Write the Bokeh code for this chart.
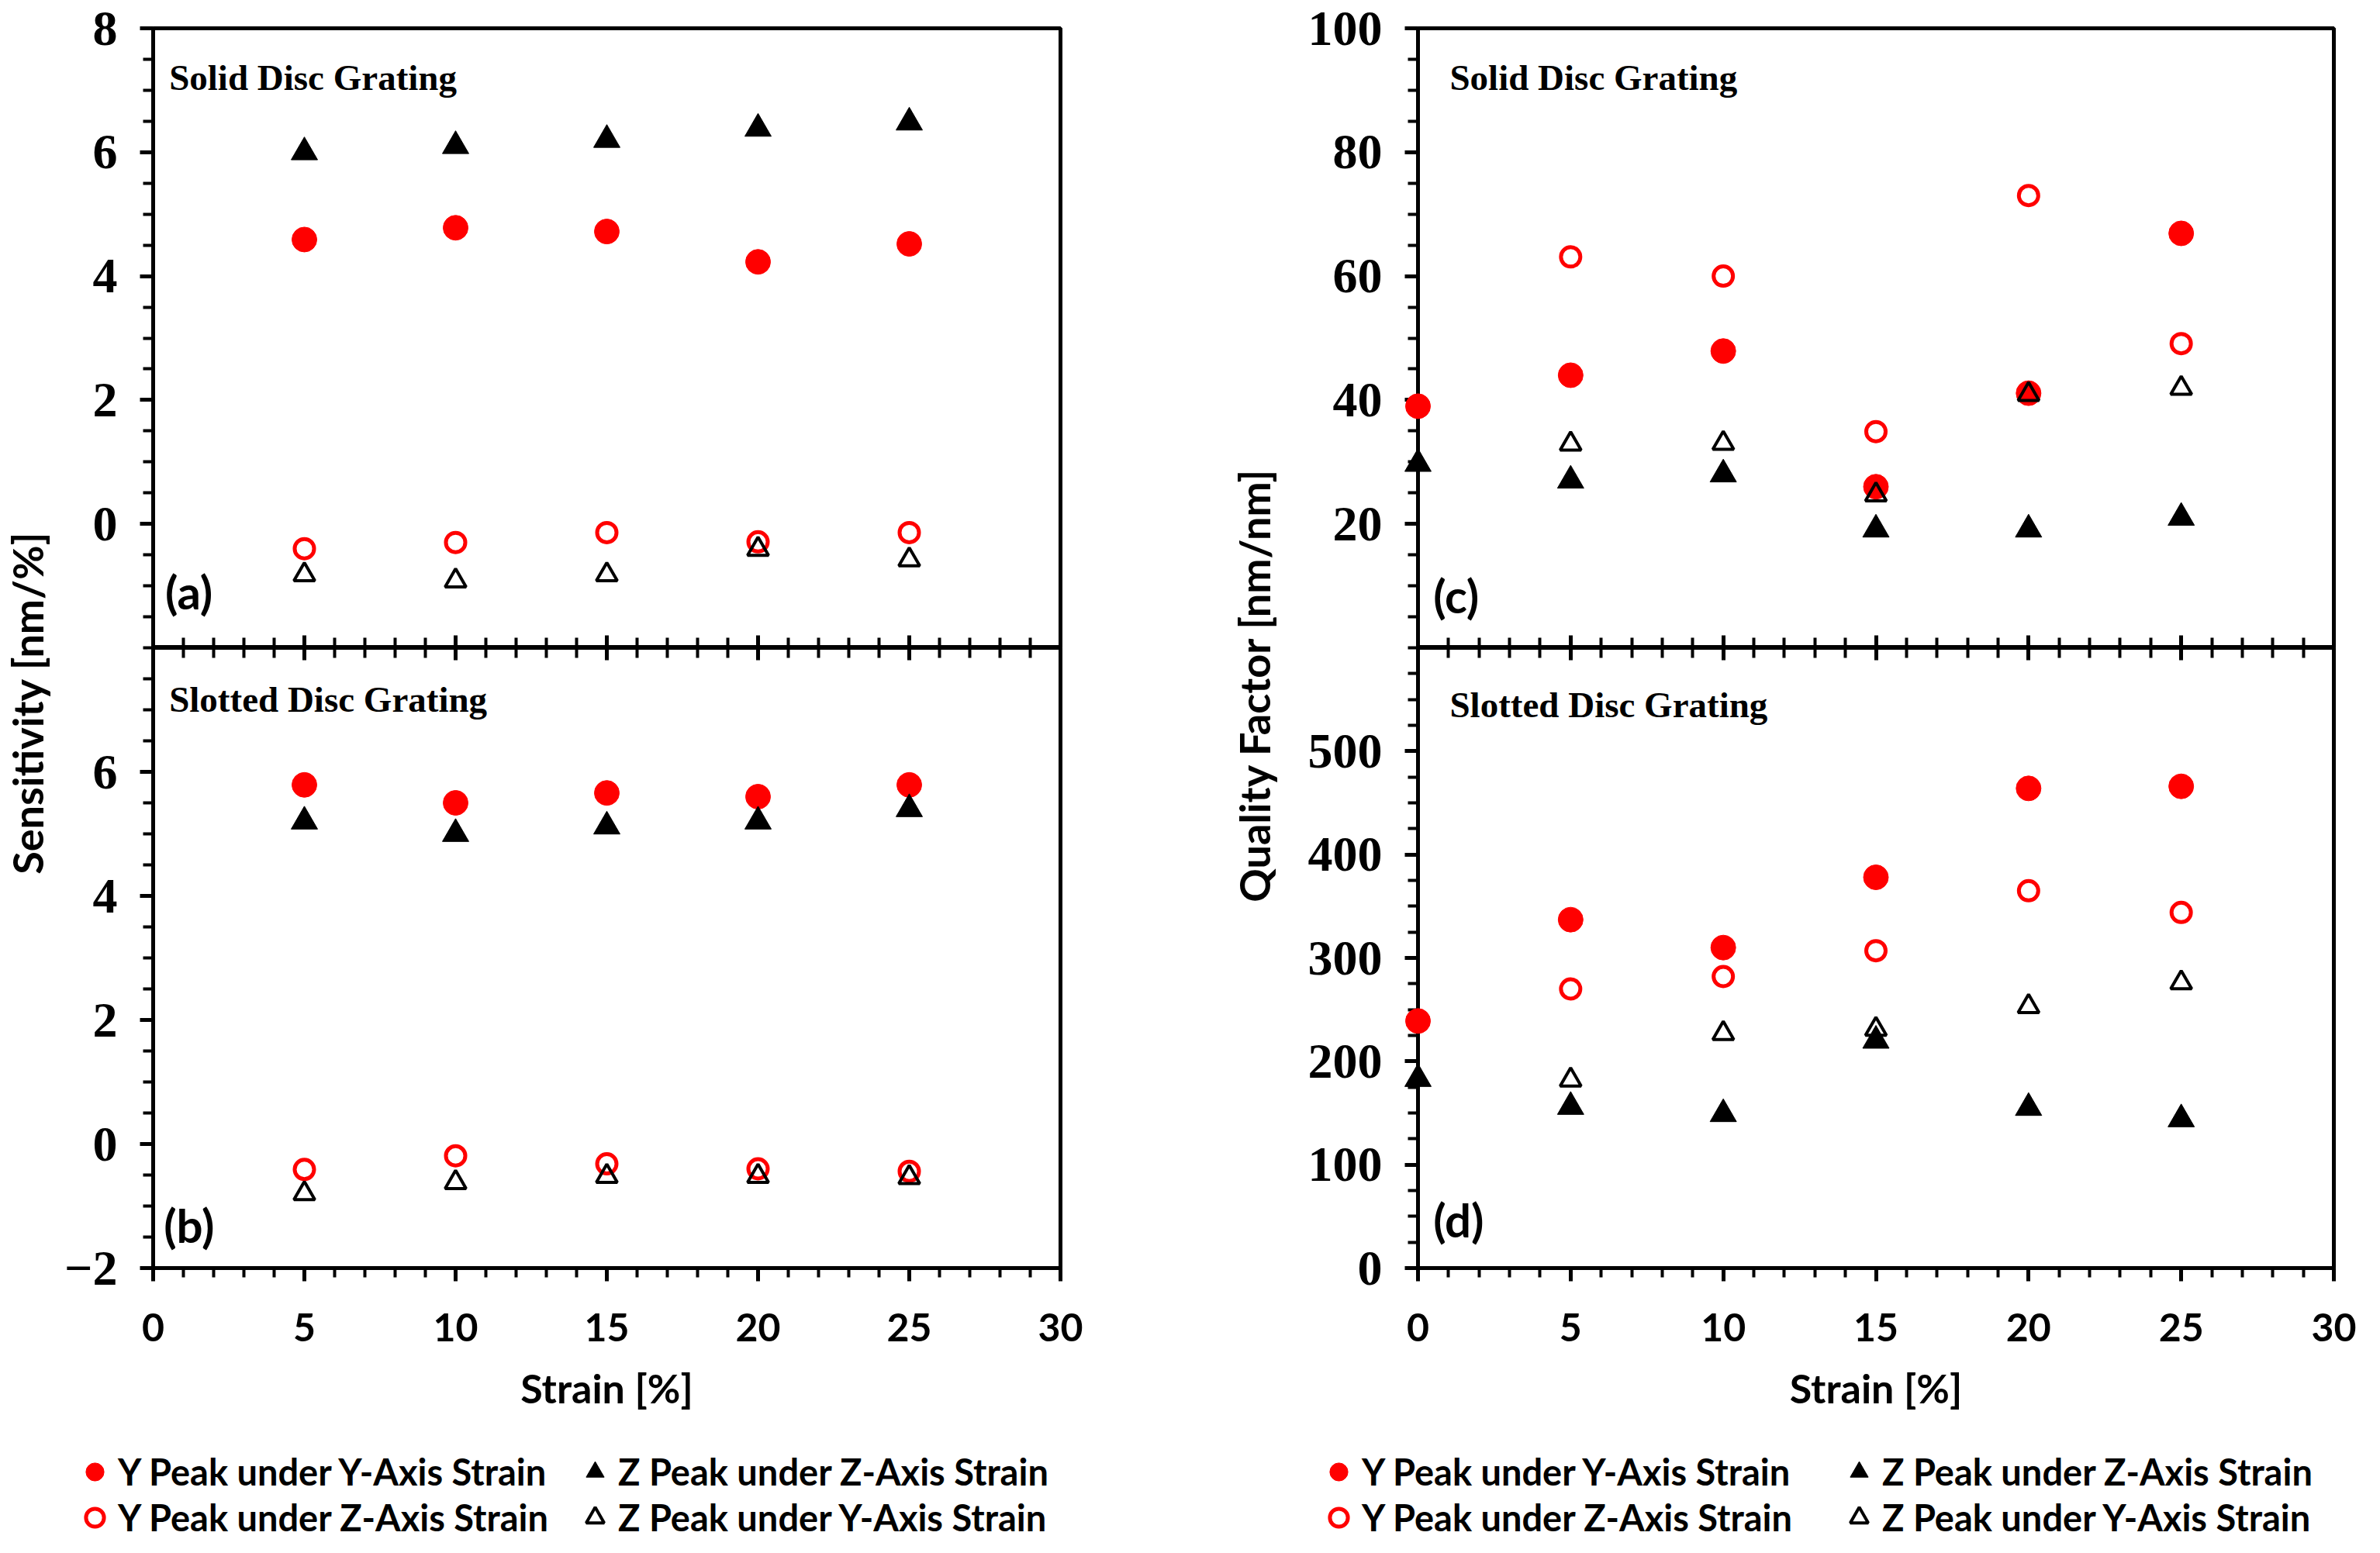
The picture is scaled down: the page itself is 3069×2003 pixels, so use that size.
import math
from bokeh.plotting import figure
from bokeh.models import FixedTicker, Range1d, Label, Legend, LegendItem, LinearAxis
from bokeh.layouts import row, column
from bokeh.embed import file_html
from bokeh.resources import INLINE

# ---------------- data ----------------
strain_sens = [5, 10, 15, 20, 25]
sens_solid_y_under_y = [4.59, 4.78, 4.72, 4.23, 4.52]
sens_solid_z_under_z = [6.00, 6.10, 6.20, 6.38, 6.48]
sens_solid_y_under_z = [-0.40, -0.30, -0.14, -0.29, -0.14]
sens_solid_z_under_y = [-0.82, -0.92, -0.82, -0.41, -0.58]

sens_slot_y_under_y = [5.79, 5.50, 5.66, 5.60, 5.79]
sens_slot_z_under_z = [5.20, 5.00, 5.12, 5.20, 5.40]
sens_slot_y_under_z = [-0.41, -0.19, -0.32, -0.40, -0.44]
sens_slot_z_under_y = [-0.80, -0.62, -0.52, -0.52, -0.54]

strain_q_full = [0, 5, 10, 15, 20, 25]
strain_q_part = [5, 10, 15, 20, 25]
q_solid_y_under_y = [39.0, 44.0, 47.9, 26.0, 41.1, 66.9]
q_solid_z_under_z = [29.7, 27.0, 28.0, 19.1, 19.1, 21.0]
q_solid_y_under_z = [63.1, 60.0, 34.9, 73.0, 49.1]
q_solid_z_under_y = [32.9, 33.0, 24.7, 40.9, 41.9]

q_slot_y_under_y = [239, 337, 310, 378, 464, 466]
q_slot_z_under_z = [183, 156, 149, 220, 155, 144]
q_slot_y_under_z = [270, 282, 307, 365, 344]
q_slot_z_under_y = [182, 227, 231, 253, 276]

legend_labels = ["Y Peak under Y-Axis Strain", "Z Peak under Z-Axis Strain",
                 "Y Peak under Z-Axis Strain", "Z Peak under Y-Axis Strain"]

x_major = [0, 5, 10, 15, 20, 25, 30]
x_minor = list(range(0, 31))
sens_top_ticks = [0, 2, 4, 6, 8]
sens_bot_ticks = [-2, 0, 2, 4, 6]
sens_minor = [v / 2 for v in range(-4, 17)]
q_top_ticks = [20, 40, 60, 80, 100]
q_top_minor = list(range(0, 101, 5))
q_bot_ticks = [0, 100, 200, 300, 400, 500]
q_bot_minor = list(range(0, 601, 25))

RED = "#FF0000"
SERIF = "Liberation Serif"
SANS = "Lato"
H_TOP, H_BOT, H_LEG = 835, 990, 160
MAIN_H = H_TOP + H_BOT


def base_fig(width, height, yr, mbl, mbr, mbt, mbb):
    p = figure(width=width, height=height, x_range=Range1d(0, 30), y_range=Range1d(*yr),
               output_backend="svg", toolbar_location=None,
               min_border_left=mbl, min_border_right=mbr, min_border_top=mbt, min_border_bottom=mbb)
    p.grid.visible = False
    p.outline_line_color = "black"
    p.outline_line_width = 5
    p.outline_line_alpha = 1.0
    p.background_fill_color = "white"
    p.border_fill_color = "white"
    return p


def style_y(p, ticks, minor):
    ax = p.yaxis[0]
    ax.ticker = FixedTicker(ticks=ticks, minor_ticks=minor)
    ax.axis_line_width = 5
    ax.major_tick_line_width = 5
    ax.minor_tick_line_width = 4
    ax.major_tick_out = 17
    ax.major_tick_in = 0
    ax.minor_tick_out = 13
    ax.minor_tick_in = 0
    ax.major_label_text_font = SERIF
    ax.major_label_text_font_style = "bold"
    ax.major_label_text_font_size = "64px"
    ax.major_label_text_color = "black"
    ax.major_label_standoff = 29


def hidden_cross_axis(ax):
    ax.ticker = FixedTicker(ticks=x_major, minor_ticks=x_minor)
    ax.axis_line_width = 5
    ax.major_tick_line_width = 5
    ax.minor_tick_line_width = 4
    ax.major_tick_in = 16
    ax.major_tick_out = 0
    ax.minor_tick_in = 13
    ax.minor_tick_out = 0
    ax.major_label_text_font_size = "1px"
    ax.major_label_text_color = None
    ax.major_label_standoff = 0


def style_x_bottom(p):
    ax = p.xaxis[0]
    ax.ticker = FixedTicker(ticks=x_major, minor_ticks=x_minor)
    ax.axis_line_width = 5
    ax.major_tick_line_width = 5
    ax.minor_tick_line_width = 4
    ax.major_tick_out = 17
    ax.major_tick_in = 0
    ax.minor_tick_out = 12
    ax.minor_tick_in = 0
    ax.major_label_text_font = SANS
    ax.major_label_text_font_style = "bold"
    ax.major_label_text_font_size = "50px"
    ax.major_label_text_color = "black"
    ax.major_label_standoff = 41
    ax.axis_label = "Strain [%]"
    ax.axis_label_text_font = SANS
    ax.axis_label_text_font_style = "bold"
    ax.axis_label_text_font_size = "52px"
    ax.axis_label_text_color = "black"
    ax.axis_label_standoff = 26


def add_series(p, xf, xp, yy, zz, yz, zy, level="overlay"):
    r1 = p.scatter(xf, yy, marker="circle", size=32, fill_color=RED, line_color=RED, line_width=1, level=level)
    r2 = p.scatter(xf, zz, marker="triangle", size=34, fill_color="black", line_color="black", line_width=1, level=level)
    r3 = p.scatter(xp, yz, marker="circle", size=25, fill_color=None, line_color=RED, line_width=5, level=level)
    r4 = p.scatter(xp, zy, marker="triangle", size=27, fill_color=None, line_color="black", line_width=4, level=level)
    return [r1, r2, r3, r4]


def add_text(p, x, y, text, serif, size, baseline):
    p.add_layout(Label(x=x, y=y, text=text, text_font=SERIF if serif else SANS,
                       text_font_style="bold", text_font_size=size, text_color="black",
                       text_align="left", text_baseline=baseline))


def legend_fig(width, xf, xp, data, xloc, label_width):
    # frame-only figure whose view holds no points; it only carries the legend
    lf = figure(width=width, height=H_LEG, x_range=Range1d(-1000, -999), y_range=Range1d(-1000, -999),
                x_axis_type=None, y_axis_type=None, output_backend="svg", toolbar_location=None,
                min_border=0, outline_line_color=None)
    lf.grid.visible = False
    rs = add_series(lf, xf, xp, *data, level="glyph")
    items = [LegendItem(label=lab, renderers=[r]) for lab, r in zip(legend_labels, rs)]
    leg = Legend(items=items, orientation="horizontal", ncols=2, location=(xloc, -1))
    leg.label_text_font = SANS
    leg.label_text_font_style = "bold"
    leg.label_text_font_size = "47px"
    leg.label_text_color = "black"
    leg.label_text_baseline = "middle"
    leg.glyph_width = 60
    leg.glyph_height = 58
    leg.label_standoff = 0
    leg.label_width = label_width
    leg.label_height = 54
    leg.spacing = 1
    leg.padding = 0
    leg.margin = 0
    leg.border_line_color = None
    leg.background_fill_alpha = 0
    lf.add_layout(leg)
    return lf


def make_column(width, mbl, mbr, yr_top, yr_bot, top_ticks, top_minor, bot_ticks, bot_minor,
                data_top, data_bot, xf, xp, txt):
    fa = base_fig(width, H_TOP, yr_top, mbl, mbr, 36, 0)
    style_y(fa, top_ticks, top_minor)
    hidden_cross_axis(fa.xaxis[0])
    add_series(fa, xf, xp, *data_top)

    fb = base_fig(width, H_BOT, yr_bot, mbl, mbr, 0, 190)
    style_y(fb, bot_ticks, bot_minor)
    style_x_bottom(fb)
    top_ax = LinearAxis()
    hidden_cross_axis(top_ax)
    fb.add_layout(top_ax, "above")
    add_series(fb, xf, xp, *data_bot)

    (t1, t2, t3, t4) = txt
    add_text(fa, *t1)
    add_text(fa, *t2)
    add_text(fb, *t3)
    add_text(fb, *t4)
    return column(fa, fb)


def strip(width, x, y, text):
    s = figure(width=width, height=MAIN_H, x_range=Range1d(0, width), y_range=Range1d(0, MAIN_H),
               x_axis_type=None, y_axis_type=None, output_backend="svg", toolbar_location=None,
               min_border=0, outline_line_color=None)
    s.grid.visible = False
    s.add_layout(Label(x=x, y=y, text=text, angle=math.pi / 2, text_align="center",
                       text_baseline="middle", text_font=SANS, text_font_style="bold",
                       text_font_size="54px", text_color="black"))
    return s


left = make_column(
    1472, 109, 185, (-2, 8), (-2, 8), sens_top_ticks, sens_minor, sens_bot_ticks, sens_minor,
    (sens_solid_y_under_y, sens_solid_z_under_z, sens_solid_y_under_z, sens_solid_z_under_y),
    (sens_slot_y_under_y, sens_slot_z_under_z, sens_slot_y_under_z, sens_slot_z_under_y),
    strain_sens, strain_sens,
    ((0.53, 7.2, "Solid Disc Grating", True, "47px", "alphabetic"),
     (0.4, -1.09, "(a)", False, "60px", "middle"),
     (0.53, 7.17, "Slotted Disc Grating", True, "47px", "alphabetic"),
     (0.35, -1.31, "(b)", False, "60px", "middle")))

right = make_column(
    1397, 176, 40, (0, 100), (0, 600), q_top_ticks, q_top_minor, q_bot_ticks, q_bot_minor,
    (q_solid_y_under_y, q_solid_z_under_z, q_solid_y_under_z, q_solid_z_under_y),
    (q_slot_y_under_y, q_slot_z_under_z, q_slot_y_under_z, q_slot_z_under_y),
    strain_q_full, strain_q_part,
    ((1.04, 92, "Solid Disc Grating", True, "47px", "alphabetic"),
     (0.5, 8.5, "(c)", False, "60px", "middle"),
     (1.04, 545, "Slotted Disc Grating", True, "47px", "alphabetic"),
     (0.5, 47, "(d)", False, "60px", "middle")))

strip_l = strip(80, 35, MAIN_H - (914 - 8), "Sensitivity [nm/%]")
strip_r = strip(100, 65, MAIN_H - (891 - 8), "Quality Factor [nm/nm]")

leg_l = legend_fig(1552, strain_sens, strain_sens,
                   (sens_slot_y_under_y, sens_slot_z_under_z, sens_slot_y_under_z, sens_slot_z_under_y),
                   92, 584)
leg_r = legend_fig(1497, strain_q_full, strain_q_part,
                   (q_slot_y_under_y, q_slot_z_under_z, q_slot_y_under_z, q_slot_z_under_y),
                   144, 610)

layout = column(row(strip_l, left, strip_r, right), row(leg_l, leg_r))
open("out.html", "w").write(file_html(layout, INLINE))
